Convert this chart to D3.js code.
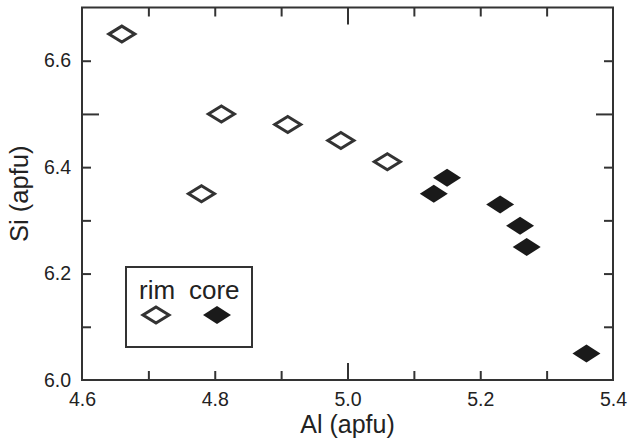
<!DOCTYPE html>
<html>
<head>
<meta charset="utf-8">
<script src="https://cdn.jsdelivr.net/npm/d3@7"></script>
<style>
  body { margin: 0; background: #fff; }
  svg text { font-family: "Liberation Sans", Arial, sans-serif; fill: #222; }
</style>
</head>
<body>
<script>
// Data
const rimAl = [4.66, 4.81, 4.78, 4.91, 4.99, 5.06];
const rimSi = [6.65, 6.50, 6.35, 6.48, 6.45, 6.41];
const coreAl = [5.15, 5.13, 5.23, 5.26, 5.27, 5.36];
const coreSi = [6.38, 6.35, 6.33, 6.29, 6.25, 6.05];

const xLabelTicks = [4.6, 4.8, 5.0, 5.2, 5.4];
const yLabelTicks = [6.0, 6.2, 6.4, 6.6];
const xMinorTicks = [4.7, 4.8, 4.9, 5.0, 5.1, 5.2, 5.3];
const yMinorTicks = [6.1, 6.2, 6.3, 6.4, 6.5, 6.6];
const seriesNames = ["rim", "core"];

const width = 632, height = 440;
const margin = { top: 7.5, right: 19, bottom: 60, left: 82 };
const axisColor = "#333";
const shortTick = 9, longTick = 17;

const svg = d3.select("body").append("svg")
    .attr("width", width)
    .attr("height", height);

const x = d3.scaleLinear().domain([4.6, 5.4]).range([margin.left, width - margin.right]);
const y = d3.scaleLinear().domain([6.0, 6.7]).range([height - margin.bottom, margin.top]);

// multiples of 0.5 get the long tick
const tickLen = v => Math.abs(v * 2 - Math.round(v * 2)) < 1e-6 ? longTick : shortTick;

// Inward ticks on all four sides (no labels)
function tickAxis(axisFn, scale, values, translate) {
    const g = svg.append("g")
        .attr("transform", translate)
        .call(axisFn(scale).tickValues(values).tickFormat("").tickSizeOuter(0));
    g.select(".domain").remove();
    g.selectAll(".tick line")
        .attr("stroke", axisColor)
        .attr("stroke-width", 2);
    return g;
}

const bottomY = y.range()[0], topY = y.range()[1];
const leftX = x.range()[0], rightX = x.range()[1];

tickAxis(d3.axisBottom, x, xMinorTicks, `translate(0,${bottomY})`)
    .selectAll(".tick line").attr("y2", d => -tickLen(d));
tickAxis(d3.axisTop, x, xMinorTicks, `translate(0,${topY})`)
    .selectAll(".tick line").attr("y2", d => tickLen(d));
tickAxis(d3.axisLeft, y, yMinorTicks, `translate(${leftX},0)`)
    .selectAll(".tick line").attr("x2", d => tickLen(d));
tickAxis(d3.axisRight, y, yMinorTicks, `translate(${rightX},0)`)
    .selectAll(".tick line").attr("x2", d => -tickLen(d));

// Frame
svg.append("rect")
    .attr("x", leftX)
    .attr("y", topY)
    .attr("width", rightX - leftX)
    .attr("height", bottomY - topY)
    .attr("fill", "none")
    .attr("stroke", axisColor)
    .attr("stroke-width", 2);

// Tick labels
const xLabels = svg.append("g")
    .attr("transform", `translate(0,${bottomY})`)
    .call(d3.axisBottom(x).tickValues(xLabelTicks).tickFormat(d3.format(".1f")).tickSize(0).tickPadding(12));
xLabels.select(".domain").remove();
xLabels.selectAll("text").attr("font-size", 19.5).attr("font-family", null).attr("fill", "#222");

const yLabels = svg.append("g")
    .attr("transform", `translate(${leftX},0)`)
    .call(d3.axisLeft(y).tickValues(yLabelTicks).tickFormat(d3.format(".1f")).tickSize(0).tickPadding(11));
yLabels.select(".domain").remove();
yLabels.selectAll("text").attr("font-size", 19.5).attr("font-family", null).attr("fill", "#222");

// Axis titles
svg.append("text")
    .attr("x", (leftX + rightX) / 2)
    .attr("y", 433)
    .attr("text-anchor", "middle")
    .attr("font-size", 25)
    .text("Al (apfu)");

svg.append("text")
    .attr("transform", `translate(28,${(topY + bottomY) / 2}) rotate(-90)`)
    .attr("text-anchor", "middle")
    .attr("font-size", 25.5)
    .text("Si (apfu)");

// Diamond markers
const openDiamond = "M0,-8L13,0L0,8L-13,0Z";
const filledDiamond = "M0,-9L14,0L0,9L-14,0Z";

const rim = d3.zip(rimAl, rimSi);
const core = d3.zip(coreAl, coreSi);

svg.append("g").selectAll("path")
    .data(rim)
    .join("path")
    .attr("d", openDiamond)
    .attr("transform", d => `translate(${x(d[0])},${y(d[1])})`)
    .attr("fill", "#fff")
    .attr("stroke", axisColor)
    .attr("stroke-width", 3);

svg.append("g").selectAll("path")
    .data(core)
    .join("path")
    .attr("d", filledDiamond)
    .attr("transform", d => `translate(${x(d[0])},${y(d[1])})`)
    .attr("fill", "#1a1a1a");

// Legend
const legend = svg.append("g");
legend.append("rect")
    .attr("x", 126)
    .attr("y", 267)
    .attr("width", 126)
    .attr("height", 80)
    .attr("fill", "#fff")
    .attr("stroke", axisColor)
    .attr("stroke-width", 2);

legend.append("text").attr("x", 139).attr("y", 299).attr("font-size", 26).text(seriesNames[0]);
legend.append("text").attr("x", 189).attr("y", 299).attr("font-size", 26).text(seriesNames[1]);

legend.append("path")
    .attr("d", openDiamond)
    .attr("transform", "translate(156,315)")
    .attr("fill", "#fff")
    .attr("stroke", axisColor)
    .attr("stroke-width", 3);
legend.append("path")
    .attr("d", filledDiamond)
    .attr("transform", "translate(217,315)")
    .attr("fill", "#1a1a1a");
</script>
</body>
</html>
